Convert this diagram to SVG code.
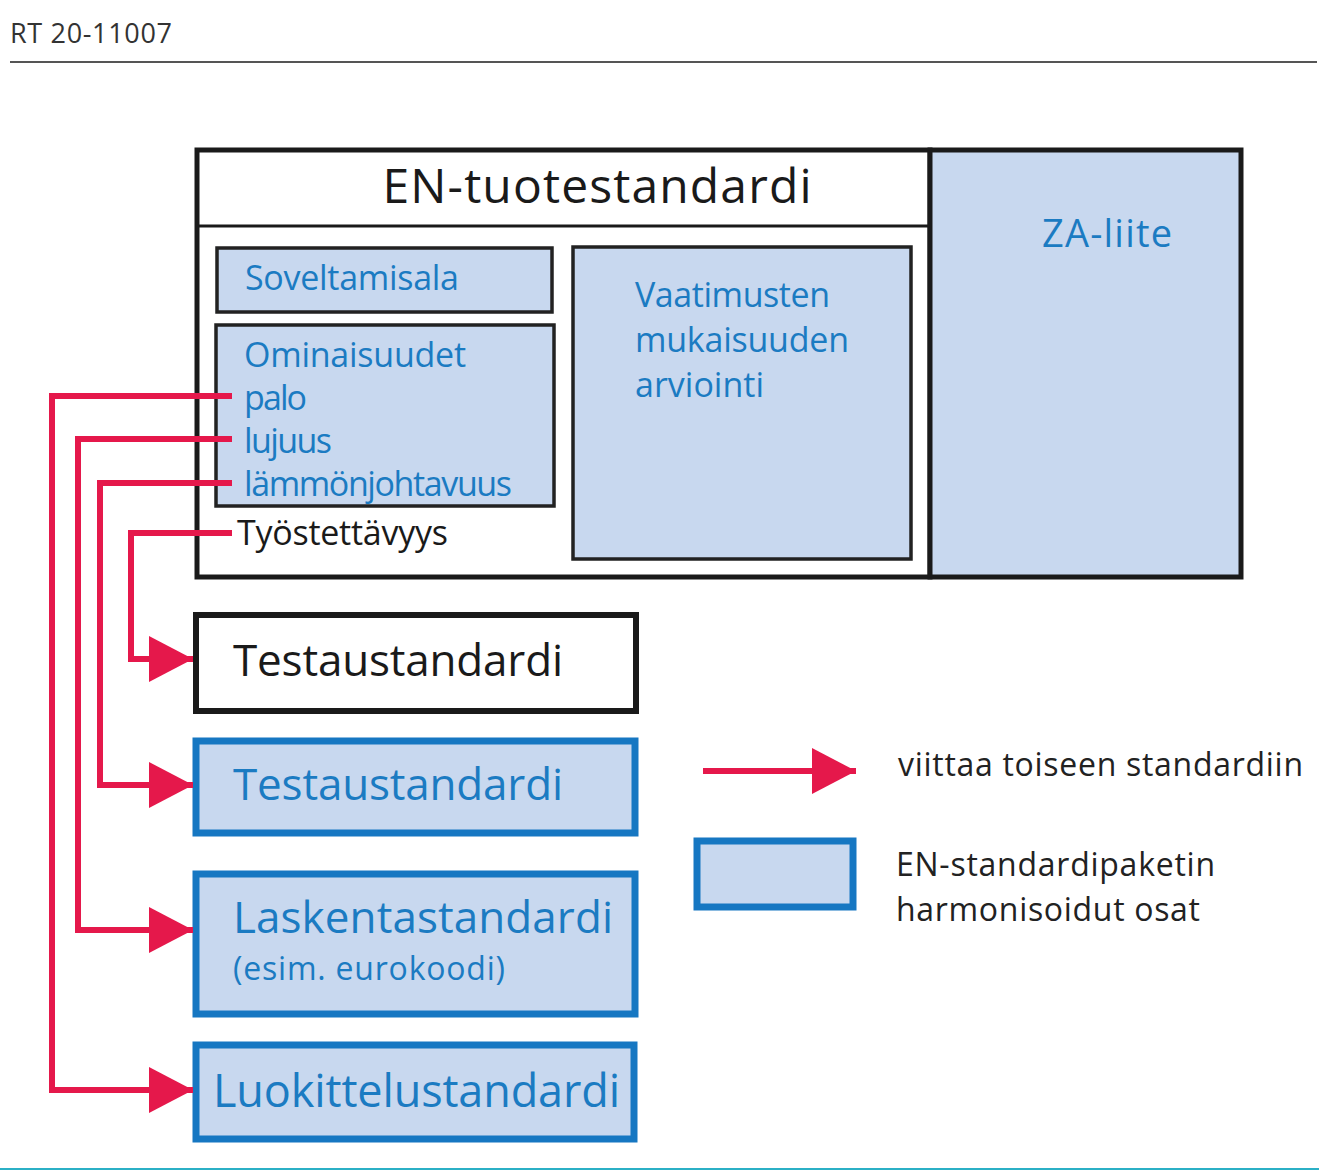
<svg xmlns="http://www.w3.org/2000/svg" width="1319" height="1171" viewBox="0 0 1319 1171">
<style>
  text { font-family: "Open Sans", "Liberation Sans", sans-serif; }
  .blk { fill: #1a1a1a; }
  .blu { fill: #1b7bc2; }
  .inner { fill: #c8d8ef; stroke: #222; stroke-width: 3.5; }
  .harm { fill: #c8d8ef; stroke: #1677c2; stroke-width: 7; }
  .plain { fill: #fff; stroke: #1a1a1a; stroke-width: 6; }
  .conn { fill: none; stroke: #e5184b; stroke-width: 6; stroke-linejoin: miter; }
</style>
<defs>
  <marker id="ah" markerUnits="userSpaceOnUse" markerWidth="44" markerHeight="46" refX="44" refY="23" orient="auto" viewBox="0 0 44 46">
    <path d="M0,0 L44,23 L0,46 z" fill="#e5184b"/>
  </marker>
</defs>
<rect width="1319" height="1171" fill="#fff"/>

<g id="header">
  <text x="10" y="43" font-size="27" fill="#333" textLength="162">RT 20-11007</text>
  <line x1="10" y1="62" x2="1317" y2="62" stroke="#555" stroke-width="2"/>
</g>

<g id="en-tuotestandardi">
  <rect x="197" y="150" width="733" height="427" fill="#fff" stroke="#1a1a1a" stroke-width="5"/>
  <line x1="197" y1="226" x2="930" y2="226" stroke="#1a1a1a" stroke-width="3"/>
  <text x="597" y="203" font-size="48" class="blk" text-anchor="middle" textLength="429">EN-tuotestandardi</text>
</g>

<g id="za-liite">
  <rect x="930" y="150" width="311" height="427" fill="#c8d8ef" stroke="#1a1a1a" stroke-width="5"/>
  <text x="1042" y="247" font-size="38" class="blu" textLength="130">ZA-liite</text>
</g>

<g id="soveltamisala">
  <rect x="217" y="248" width="335" height="64" class="inner"/>
  <text x="245" y="290" font-size="34" class="blu" textLength="214">Soveltamisala</text>
</g>

<g id="ominaisuudet">
  <rect x="216" y="325" width="338" height="181" class="inner"/>
  <text x="244" y="367" font-size="34" class="blu" textLength="222">Ominaisuudet</text>
  <text x="244" y="410" font-size="34" class="blu" textLength="63">palo</text>
  <text x="244" y="453" font-size="34" class="blu" textLength="88">lujuus</text>
  <text x="244" y="496" font-size="34" class="blu" textLength="268">lämmönjohtavuus</text>
</g>

<g id="tyostettavyys">
  <text x="237" y="545" font-size="34" class="blk" textLength="211">Työstettävyys</text>
</g>

<g id="vaatimusten">
  <rect x="573" y="247" width="338" height="312" class="inner"/>
  <text x="635" y="307" font-size="34" class="blu" textLength="195">Vaatimusten</text>
  <text x="635" y="352" font-size="34" class="blu" textLength="214">mukaisuuden</text>
  <text x="635" y="397" font-size="34" class="blu" textLength="129">arviointi</text>
</g>

<g id="testaustandardi-1">
  <rect x="196" y="615" width="440" height="96" class="plain"/>
  <text x="233" y="676" font-size="44" class="blk" textLength="330">Testaustandardi</text>
</g>

<g id="testaustandardi-2">
  <rect x="196" y="741" width="439" height="92" class="harm"/>
  <text x="233" y="800" font-size="44" class="blu" textLength="330">Testaustandardi</text>
</g>

<g id="laskentastandardi">
  <rect x="196" y="874" width="439" height="140" class="harm"/>
  <text x="233" y="933" font-size="44" class="blu" textLength="380">Laskentastandardi</text>
  <text x="233" y="980" font-size="32" class="blu" textLength="272">(esim. eurokoodi)</text>
</g>

<g id="luokittelustandardi">
  <rect x="196" y="1045" width="438" height="94" class="harm"/>
  <text x="213" y="1107" font-size="45" class="blu" textLength="407">Luokittelustandardi</text>
</g>

<g id="connectors">
  <polyline class="conn" points="232,396 52,396 52,1090 193,1090" marker-end="url(#ah)"/>
  <polyline class="conn" points="232,439 78,439 78,930 193,930" marker-end="url(#ah)"/>
  <polyline class="conn" points="232,483 100,483 100,785 193,785" marker-end="url(#ah)"/>
  <polyline class="conn" points="232,533 131,533 131,659 193,659" marker-end="url(#ah)"/>
</g>

<g id="legend">
  <line class="conn" x1="703" y1="771" x2="856" y2="771" marker-end="url(#ah)"/>
  <text x="898" y="776" font-size="32" fill="#222" textLength="405">viittaa toiseen standardiin</text>
  <rect x="697" y="841" width="156" height="66" class="harm"/>
  <text x="896" y="876" font-size="32" fill="#222" textLength="319">EN-standardipaketin</text>
  <text x="896" y="921" font-size="32" fill="#222" textLength="304">harmonisoidut osat</text>
</g>

<line x1="0" y1="1169" x2="1319" y2="1169" stroke="#2bb0c6" stroke-width="2"/>
</svg>
